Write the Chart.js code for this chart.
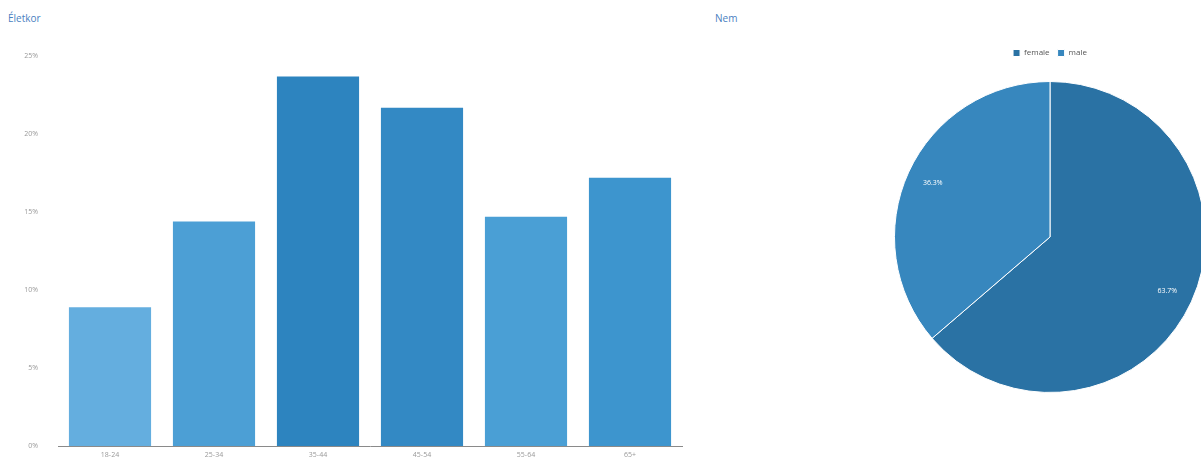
<!DOCTYPE html>
<html lang="hu">
<head>
<meta charset="UTF-8" />
<title>Életkor / Nem</title>
<script src="https://cdn.jsdelivr.net/npm/chart.js@4"></script>
<style>
  body { margin: 0; background: #fff; width: 1201px; height: 463px; overflow: hidden; position: relative; font-family: "Open Sans", sans-serif; }
  .title { position: absolute; font-size: 10px; color: #4a7fc1; }
  #ageBox { position: absolute; left: 0; top: 40px; width: 700px; height: 423px; }
  #sexBox { position: absolute; left: 880px; top: 41px; width: 340px; height: 352px; }
</style>
</head>
<body>
<div class="title" style="left:8px; top:11px;">Életkor</div>
<div class="title" style="left:715px; top:11px;">Nem</div>
<div id="ageBox"><canvas id="ageChart"></canvas></div>
<div id="sexBox"><canvas id="sexChart"></canvas></div>

<script>
// age groups (% of visitors)
const ageLabels = ['18-24', '25-34', '35-44', '45-54', '55-64', '65+'];
const ageValues = [8.9, 14.4, 23.7, 21.7, 14.7, 17.2];
const ageColors = ['#64aedf', '#4c9fd5', '#2d84bf', '#3389c4', '#4a9fd5', '#3d95ce'];
const yTicks = [0, 5, 10, 15, 20, 25];

// gender split
const sexLabels = ['female', 'male'];
const sexValues = [63.7, 36.3];
const sexColors = ['#2a72a4', '#3787be'];

const tickFont = { family: 'Open Sans', size: 7 };

new Chart(document.getElementById('ageChart'), {
  type: 'bar',
  data: {
    labels: ageLabels,
    datasets: [{ data: ageValues, backgroundColor: ageColors, barPercentage: 0.79, categoryPercentage: 1 }]
  },
  options: {
    responsive: true,
    maintainAspectRatio: false,
    animation: false,
    layout: { padding: { top: 16, right: 18, left: 0, bottom: 0 } },
    plugins: { legend: { display: false }, tooltip: { enabled: false } },
    scales: {
      x: {
        grid: { display: false, drawTicks: false },
        border: { display: true, color: '#8a8a8a', width: 1 },
        ticks: { color: '#999', font: tickFont, padding: 5 },
        afterFit: s => { s.height = 17; }
      },
      y: {
        min: 0, max: 25,
        afterBuildTicks: s => { s.ticks = yTicks.map(v => ({ value: v })); },
        grid: { display: false },
        border: { display: false },
        ticks: { color: '#999', font: tickFont, padding: 12, callback: v => v + '%' },
        afterFit: s => { s.width = 58; }
      }
    }
  }
});

// draw the percentage inside each slice
const sliceLabels = {
  id: 'sliceLabels',
  afterDatasetsDraw(chart) {
    const ctx = chart.ctx;
    const meta = chart.getDatasetMeta(0);
    ctx.save();
    ctx.fillStyle = '#ffffff';
    ctx.font = '7px "Open Sans"';
    ctx.textAlign = 'center';
    ctx.textBaseline = 'middle';
    meta.data.forEach((arc, i) => {
      const mid = (arc.startAngle + arc.endAngle) / 2;
      const r = arc.outerRadius * 0.83;
      ctx.fillText(sexValues[i].toFixed(1) + '%', arc.x + Math.cos(mid) * r, arc.y + Math.sin(mid) * r);
    });
    ctx.restore();
  }
};

// extra room between legend and pie
const legendGap = {
  id: 'legendGap',
  beforeInit(chart) {
    const fit = chart.legend.fit;
    chart.legend.fit = function () {
      fit.bind(chart.legend)();
      this.height += 14;
    };
  }
};

new Chart(document.getElementById('sexChart'), {
  type: 'pie',
  data: {
    labels: sexLabels,
    datasets: [{ data: sexValues, backgroundColor: sexColors, borderColor: '#ffffff', borderWidth: 1 }]
  },
  options: {
    responsive: true,
    maintainAspectRatio: false,
    animation: false,
    layout: { padding: 0 },
    plugins: {
      tooltip: { enabled: false },
      legend: {
        position: 'top',
        labels: { color: '#555', font: { family: 'Open Sans', size: 8 }, boxWidth: 7, boxHeight: 7, padding: 8 }
      }
    }
  },
  plugins: [sliceLabels, legendGap]
});
</script>
</body>
</html>
